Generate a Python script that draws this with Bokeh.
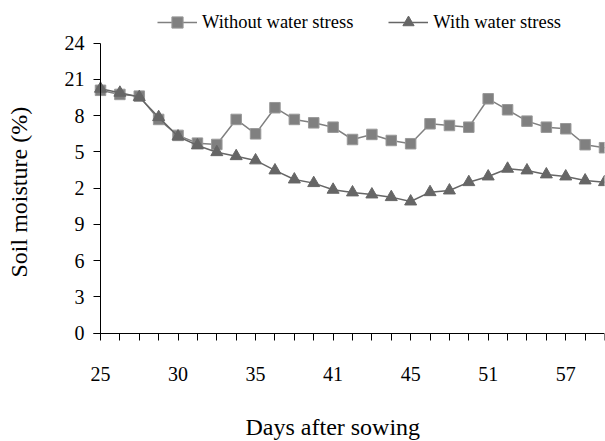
from bokeh.plotting import figure
from bokeh.models import Range1d, FixedTicker, Legend, LegendItem, Label
from bokeh.embed import file_html
from bokeh.resources import INLINE

# observation positions along the category axis (one tick per sampling date)
obs = list(range(27))
without_stress = [20.1, 19.76, 19.62, 17.69, 16.37, 15.73, 15.62, 17.69, 16.5, 18.66,
                  17.69, 17.41, 17.05, 16.03, 16.45, 15.95, 15.68, 17.33, 17.19, 17.05,
                  19.4, 18.49, 17.55, 17.05, 16.92, 15.6, 15.35]
with_stress = [20.23, 19.9, 19.54, 17.88, 16.28, 15.54, 14.98, 14.65, 14.3, 13.47,
               12.72, 12.42, 11.87, 11.65, 11.48, 11.26, 10.9, 11.67, 11.81, 12.5,
               12.97, 13.61, 13.47, 13.14, 12.97, 12.64, 12.5]
x_label_pos = [0, 4, 8, 12, 16, 20, 24]
x_labels = ["25", "30", "35", "41", "45", "51", "57"]
y_ticks = [0, 3, 6, 9, 12, 15, 18, 21, 24]
y_labels = ["0", "3", "6", "9", "2", "5", "8", "21", "24"]
y_max = 24

FONT = "Liberation Serif"
W, H = 605, 441
# layout (screen pixels): plot area of the axes
AX_L, AX_R, AX_T, AX_B = 100.0, 604.0, 42.7, 332.7
n_last = obs[-1]
px_x = (AX_R - AX_L) / n_last
px_y = (AX_B - AX_T) / y_max

# the frame covers the whole figure; axes sit at fixed data locations inside it
p = figure(width=W, height=H, output_backend="svg", toolbar_location=None,
           x_range=Range1d(-AX_L / px_x, n_last),
           y_range=Range1d(-(H - AX_B) / px_y, y_max + AX_T / px_y), title=None,
           min_border_left=0, min_border_right=1, min_border_top=0,
           min_border_bottom=0)
p.background_fill_color = "white"
p.border_fill_color = "white"
p.outline_line_color = None
p.grid.visible = False

l1 = p.line(obs, without_stress, line_color="#808080", line_width=1.5)
s1 = p.scatter(obs, without_stress, marker="square", size=10.5, fill_color="#808080",
               line_color="#999999", line_width=1)
l2 = p.line(obs, with_stress, line_color="#666666", line_width=1.5)
s2 = p.scatter(obs, with_stress, marker="triangle", size=12, fill_color="#666666",
               line_color="#666666", line_width=1)

# x axis at y = 0
xa = p.xaxis[0]
xa.fixed_location = 0
xa.bounds = (-7.2 / px_x, n_last)
xa.ticker = FixedTicker(ticks=obs)
ov = {i: "" for i in obs}
for pos, lab in zip(x_label_pos, x_labels):
    ov[pos] = lab
xa.major_label_overrides = ov
xa.major_tick_out = 7
xa.major_tick_in = 0
xa.minor_tick_line_color = None
xa.major_label_standoff = 27
xa.major_label_text_font = FONT
xa.major_label_text_font_size = "20px"
xa.major_label_text_color = "black"
xa.axis_line_color = "black"
xa.major_tick_line_color = "black"

# y axis at the first observation
ya = p.yaxis[0]
ya.fixed_location = 0
ya.bounds = (0, y_max)
ya.ticker = FixedTicker(ticks=y_ticks)
ya.major_label_overrides = {t: l for t, l in zip(y_ticks, y_labels)}
ya.axis_line_color = "black"
ya.major_tick_out = 7
ya.major_tick_in = 0
ya.minor_tick_line_color = None
ya.major_label_standoff = 9
ya.major_label_text_font = FONT
ya.major_label_text_font_size = "20px"
ya.major_label_text_color = "black"
ya.major_label_text_baseline = "hanging"
ya.major_tick_line_color = "black"

p.add_layout(Label(x=245, y=H - 426.5, x_units="screen", y_units="screen",
                   text="Days after sowing", text_font=FONT, text_font_size="24px",
                   text_color="black", text_align="left", text_baseline="alphabetic"))
p.add_layout(Label(x=18.5, y=H - 191.7, x_units="screen", y_units="screen",
                   text="Soil moisture (%)", angle=90, angle_units="deg",
                   text_font=FONT, text_font_size="24px", text_color="black",
                   text_align="center", text_baseline="alphabetic"))

legend = Legend(items=[LegendItem(label="Without water stress", renderers=[l1, s1]),
                       LegendItem(label="With water stress", renderers=[l2, s2])],
                location=(157, H - 36), orientation="horizontal", glyph_width=40,
                glyph_height=28, label_standoff=5, spacing=35, padding=0, margin=0,
                border_line_color=None, background_fill_alpha=0,
                label_text_font=FONT, label_text_font_size="18.5px",
                label_text_color="black")
p.add_layout(legend)

open("out.html", "w").write(file_html(p, INLINE))
